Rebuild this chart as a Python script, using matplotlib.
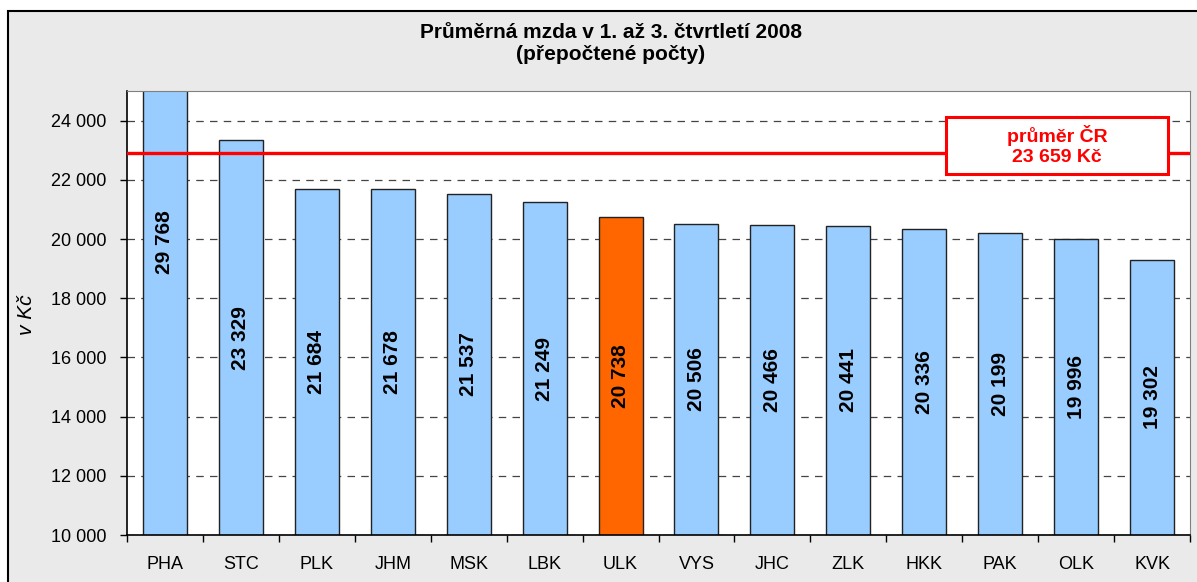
import numpy as np
import matplotlib.pyplot as plt
from matplotlib.patches import Rectangle
from matplotlib.ticker import FuncFormatter

plt.rcParams['font.family'] = ['Liberation Sans', 'DejaVu Sans']

kraje = ['PHA', 'STC', 'PLK', 'JHM', 'MSK', 'LBK', 'ULK', 'VYS', 'JHC', 'ZLK', 'HKK', 'PAK', 'OLK', 'KVK']
mzda = [29768, 23329, 21684, 21678, 21537, 21249, 20738, 20506, 20466, 20441, 20336, 20199, 19996, 19302]
prumer_cr = 22920   # where the red line sits in the picture
prumer_text = 'průměr ČR\n23 659 Kč'

fig = plt.figure(figsize=(11.97, 5.82), dpi=100)
fig.patch.set_facecolor('white')
# outer chart frame (runs off the right and bottom edge)
ramec = Rectangle((8/1197, -0.05), 1.1, 1 - 11/582 + 0.05, transform=fig.transFigure,
                  facecolor='#EAEAEA', edgecolor='black', lw=1.5, zorder=-10)
fig.add_artist(ramec)

ax = fig.add_axes([127/1197, 1 - 535/582, (1190-127)/1197, (535-91)/582])
ax.set_facecolor('white')

x = np.arange(len(kraje))
barvy = ['#FF6600' if k == 'ULK' else '#99CCFF' for k in kraje]
ax.bar(x, mzda, width=0.58, color=barvy, edgecolor='#222222', lw=1.0, zorder=2)

ymin, ymax = 10000, 25000
ax.set_ylim(ymin, ymax)
ax.set_xlim(-0.5, len(kraje) - 0.5)

# labels sit in the middle of each bar (measured from the axis minimum)
for xi, v in zip(x, mzda):
    ax.text(xi, (ymin + v) / 2, f'{v:,}'.replace(',', ' '), rotation=90, ha='center', va='center',
            fontsize=15, fontweight='bold', color='black', zorder=3)

ax.axhline(prumer_cr, color='#FF0000', lw=2.4, zorder=4)

# label box for the national average
bx0, bx1 = (946 - 127) / 1063, (1168 - 127) / 1063
by0, by1 = (535 - 174) / 444, (535 - 117) / 444
ax.add_patch(Rectangle((bx0, by0), bx1 - bx0, by1 - by0, transform=ax.transAxes,
                       facecolor='white', edgecolor='#FF0000', lw=2.2, zorder=5))
ax.text((bx0 + bx1) / 2, (by0 + by1) / 2, prumer_text, transform=ax.transAxes,
        ha='center', va='center', color='#FF0000', fontsize=14, fontweight='bold',
        linespacing=1.25, zorder=6)

ax.set_yticks(np.arange(ymin, ymax, 2000))
ax.yaxis.set_major_formatter(FuncFormatter(lambda v, p: f'{int(v):,}'.replace(',', ' ')))
ax.grid(axis='y', color='#444444', ls=(0, (6, 5)), lw=0.9, zorder=1)
ax.set_xticks(x)
ax.set_xticklabels(kraje)
ax.set_xticks(np.arange(-0.5, len(kraje)), minor=True)
ax.tick_params(axis='x', which='major', length=0, pad=15, labelsize=13)
ax.tick_params(axis='x', which='minor', length=5, width=1, direction='out')
ax.tick_params(axis='y', length=5, width=1, direction='out', labelsize=13, pad=10)

for s in ['top', 'right']:
    ax.spines[s].set_color('#808080')
for s in ['left', 'bottom']:
    ax.spines[s].set_color('black')
    ax.spines[s].set_linewidth(1.2)

fig.text(27/1197, 1 - 315/582, 'v Kč', rotation=90, ha='center', va='center',
         fontsize=15, fontstyle='italic')

fig.text(611/1197, 1 - 32/582, 'Průměrná mzda v 1. až 3. čtvrtletí 2008', ha='center', va='center',
         fontsize=15, fontweight='bold')
fig.text(611/1197, 1 - 54/582, '(přepočtené počty)', ha='center', va='center',
         fontsize=15, fontweight='bold')

fig.savefig('out.png', dpi=100, facecolor=fig.get_facecolor())
